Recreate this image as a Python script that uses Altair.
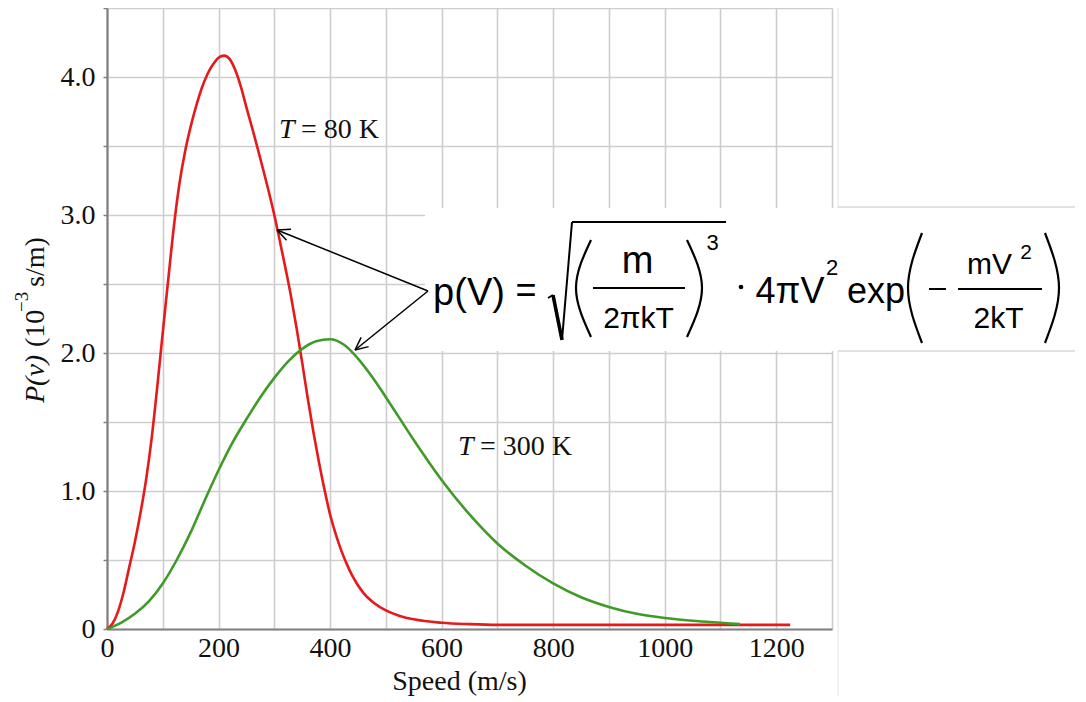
import math
import altair as alt
import pandas as pd

# ---- curve data (speed in m/s, P in 10^-3 s/m) ----
red_speed = [0, 10, 20, 30, 40, 50, 60, 70, 80, 90, 100, 110, 120, 130, 140, 150, 160, 170, 180, 190,
             200, 210, 220, 230, 240, 250, 260, 270, 280, 290, 300, 310, 320, 330, 340, 350, 360, 370,
             380, 390, 400, 410, 420, 430, 440, 460, 480, 500, 525, 550, 600, 650, 700, 800, 900, 1000,
             1100, 1225]
red_p = [0, 0.04, 0.13, 0.27, 0.45, 0.63, 0.84, 1.08, 1.38, 1.75, 2.15, 2.54, 2.92, 3.23, 3.46, 3.64,
         3.79, 3.92, 4.02, 4.09, 4.14, 4.155, 4.13, 4.05, 3.93, 3.78, 3.635, 3.485, 3.33, 3.17, 3.0,
         2.81, 2.615, 2.41, 2.18, 1.93, 1.67, 1.43, 1.21, 1.01, 0.83, 0.69, 0.57, 0.47, 0.385, 0.26,
         0.185, 0.135, 0.095, 0.07, 0.045, 0.035, 0.03, 0.03, 0.03, 0.03, 0.03, 0.03]
green_speed = [0, 25, 50, 75, 100, 125, 150, 175, 200, 225, 250, 275, 300, 325, 350, 375, 400, 425,
               450, 475, 500, 550, 600, 650, 700, 750, 800, 850, 900, 950, 1000, 1050, 1100, 1135]
green_p = [0, 0.045, 0.11, 0.2, 0.33, 0.5, 0.7, 0.93, 1.15, 1.35, 1.52, 1.68, 1.82, 1.94, 2.03, 2.085,
           2.10, 2.06, 1.96, 1.83, 1.68, 1.37, 1.08, 0.83, 0.62, 0.46, 0.33, 0.23, 0.16, 0.11, 0.08,
           0.06, 0.045, 0.035]
series_names = ["T = 80 K", "T = 300 K"]
series_colors = ["#e41a1c", "#3f9b28"]

x_ticks = list(range(0, 1301, 100))
y_ticks = [i * 0.5 for i in range(10)]

# ---- layout ----
PLOT_LEFT, PLOT_TOP = 107, 8
W, H = 725, 621
X_MAX, Y_MAX = 1300, 4.5


def sp(xpage):
    return (xpage - PLOT_LEFT) * X_MAX / W


def pv(ypage):
    return (PLOT_TOP + H - ypage) * Y_MAX / H


xscale = alt.Scale(domain=[0, X_MAX], nice=False, zero=False)
yscale = alt.Scale(domain=[0, Y_MAX], nice=False, zero=False)
SERIF = "Liberation Serif"
SANS = "Liberation Sans"

curves = pd.DataFrame({
    "speed": red_speed + green_speed,
    "p": red_p + green_p,
    "T": [series_names[0]] * len(red_speed) + [series_names[1]] * len(green_speed),
})

lines = alt.Chart(curves).mark_line(strokeWidth=2.6, interpolate="monotone").encode(
    x=alt.X("speed:Q", scale=xscale, axis=alt.Axis(
        values=x_ticks, format="d",
        labelExpr="datum.value % 200 == 0 ? datum.label : ''",
        grid=True, gridColor="#cdcdcd", gridWidth=1.6,
        domainColor="#808080", domainWidth=2.2, ticks=False, tickSize=0,
        labelFont=SERIF, labelFontSize=28, labelColor="#111", labelPadding=5,
        labelFlush=False, labelOverlap=False,
        title="Speed (m/s)", titleFont=SERIF, titleFontSize=28, titleFontWeight="normal",
        titleColor="#111", titleX=352, titleY=60, titleBaseline="alphabetic", titleAlign="center")),
    y=alt.Y("p:Q", scale=yscale, axis=alt.Axis(
        values=y_ticks,
        labelExpr="datum.value == 0 ? '0' : (datum.value % 1 == 0 ? format(datum.value, '.1f') : '')",
        grid=True, gridColor="#cdcdcd", gridWidth=1.6,
        domainColor="#808080", domainWidth=2.2, ticks=True, tickSize=4, tickColor="#808080", tickWidth=1.5,
        labelFont=SERIF, labelFontSize=28, labelColor="#111", labelPadding=8, labelOverlap=False,
        title=None)),
    color=alt.Color("T:N", scale=alt.Scale(domain=series_names, range=series_colors), legend=None),
)

noax_x = dict(scale=xscale, axis=None)
noax_y = dict(scale=yscale, axis=None)


def seg_frame(segs):
    return pd.DataFrame({
        "speed": [sp(s[0]) for s in segs], "p": [pv(s[1]) for s in segs],
        "speed2": [sp(s[2]) for s in segs], "p2": [pv(s[3]) for s in segs],
    })


def rules(segs, color="black", width=2.0):
    return alt.Chart(seg_frame(segs)).mark_rule(color=color, strokeWidth=width).encode(
        x=alt.X("speed:Q", **noax_x), x2="speed2:Q",
        y=alt.Y("p:Q", **noax_y), y2="p2:Q")


# faint picture border lines
faint_v = rules([(838, 8, 838, 702)], color="#ececec", width=1.5)

# white formula box
box = alt.Chart(seg_frame([(425, 208, 1075, 351)])).mark_rect(color="white").encode(
    x=alt.X("speed:Q", **noax_x), x2="speed2:Q",
    y=alt.Y("p:Q", **noax_y), y2="p2:Q")
box_edges = rules([(838, 207, 1075, 207), (838, 351, 1075, 351)], color="#d8d8d8", width=1.5)


# arrows
def arrow(o, t, L=14, th=math.radians(25)):
    dx, dy = o[0] - t[0], o[1] - t[1]
    n = math.hypot(dx, dy)
    ux, uy = dx / n, dy / n
    out = [(o[0], o[1], t[0], t[1])]
    for s in (1, -1):
        c, si = math.cos(s * th), math.sin(s * th)
        ax, ay = ux * c - uy * si, ux * si + uy * c
        out.append((t[0], t[1], t[0] + L * ax, t[1] + L * ay))
    return out


origin = (428, 291)
arrows = rules(arrow(origin, (277, 230)) + arrow(origin, (355, 350)), width=1.5)

# formula strokes
thin = rules([(548, 298, 553, 295), (562, 340, 572, 222), (572, 222, 726, 222),
              (593, 288, 685, 288), (958, 289, 1042, 289), (929, 289, 946, 289)], width=2.0)
thick = rules([(553, 295, 562, 340)], width=3.6)

paren_pts = [
    (0, [(591, 240), (576, 288), (591, 337)]),
    (1, [(687, 240), (702, 288), (687, 337)]),
    (2, [(922, 233), (908, 288), (922, 343)]),
    (3, [(1045, 233), (1059, 288), (1045, 343)]),
]
pr = []
for pid, pts in paren_pts:
    for k, (a, b) in enumerate(pts):
        pr.append({"id": pid, "k": k, "speed": sp(a), "p": pv(b)})
parens = alt.Chart(pd.DataFrame(pr)).mark_line(color="black", strokeWidth=2.2, interpolate="natural").encode(
    x=alt.X("speed:Q", **noax_x), y=alt.Y("p:Q", **noax_y), detail="id:N", order="k:Q")

dot = alt.Chart(pd.DataFrame({"speed": [sp(741)], "p": [pv(287)]})).mark_circle(
    color="black", size=22, opacity=1).encode(x=alt.X("speed:Q", **noax_x), y=alt.Y("p:Q", **noax_y))

glyphs = [
    ("p(V)", 469, 305, 38),
    ("=", 526, 302, 36),
    ("m", 637.5, 273, 38),
    ("2πkT", 638.5, 328, 30),
    ("3", 712.5, 250, 22),
    ("4πV", 790, 303, 36), ("2", 832, 275, 22),
    ("exp", 876, 303, 36),
    ("mV", 989.5, 274, 30), ("2", 1026, 259, 21),
    ("2kT", 998.5, 328, 30),
]
gdf = pd.DataFrame({
    "txt": [g[0] for g in glyphs], "speed": [sp(g[1]) for g in glyphs],
    "p": [pv(g[2]) for g in glyphs], "fs": [g[3] for g in glyphs]})
formula = alt.Chart(gdf).mark_text(font=SANS, align="center", baseline="alphabetic", color="black").encode(
    x=alt.X("speed:Q", **noax_x), y=alt.Y("p:Q", **noax_y), text="txt:N",
    size=alt.Size("fs:Q", scale=None, legend=None))


def text_layer(items, style="normal", angle=0, size=28):
    df = pd.DataFrame({"txt": [i[0] for i in items], "speed": [sp(i[1]) for i in items],
                       "p": [pv(i[2]) for i in items]})
    kw = dict(font=SERIF, fontSize=size, fontStyle=style, align="left", baseline="alphabetic", color="#111")
    if angle:
        kw["angle"] = angle
    return alt.Chart(df).mark_text(**kw).encode(
        x=alt.X("speed:Q", **noax_x), y=alt.Y("p:Q", **noax_y), text="txt:N")


labels_it = text_layer([("T", 279, 138), ("T", 458, 455)], style="italic")
labels_up = text_layer([("= 80 K", 301, 138), ("= 300 K", 480, 455)])

ytitle_it = text_layer([("P(v)", 44, 403)], style="italic", angle=270)
ytitle_up = text_layer([("(10", 44, 347), ("s/m)", 44, 287)], angle=270)
ytitle_sup = text_layer([("\u22123", 28, 312)], angle=270, size=19)

chart = alt.layer(
    lines, faint_v, box, box_edges, arrows, thin, thick, parens, dot, formula,
    labels_it, labels_up, ytitle_it, ytitle_up, ytitle_sup,
).resolve_axis(x="independent", y="independent").properties(
    width=W, height=H,
    autosize=alt.AutoSizeParams(type="none"),
    padding={"left": PLOT_LEFT - 8, "top": PLOT_TOP - 8, "right": 245, "bottom": 67},
    background="white",
).configure_view(stroke=None)

chart.save("out.html", embed_options={"renderer": "svg", "actions": False})
